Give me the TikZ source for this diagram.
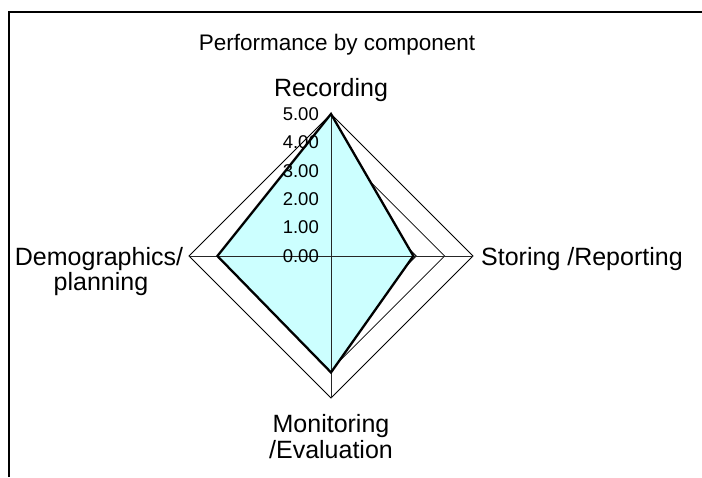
\documentclass[tikz,border=0pt]{standalone}
\usepackage{fontspec}
\setmainfont{Liberation Sans}
\definecolor{areafill}{RGB}{204,255,255}
\begin{document}
\begin{tikzpicture}[x=1pt,y=-1pt,
  gridline/.style={draw=black,line width=0.8pt},
  axisline/.style={draw=black!85,line width=0.8pt},
  dataline/.style={draw=black,line width=2.3pt,line join=miter},
  frameline/.style={draw=black,line width=1.3pt},
  ticklabel/.style={anchor=east,inner sep=0pt,font=\fontsize{18.5}{18.5}\selectfont},
  catlabel/.style={inner sep=0pt,font=\fontsize{25}{25}\selectfont},
  titlelabel/.style={inner sep=0pt,font=\fontsize{22.5}{22.5}\selectfont}]
\useasboundingbox (0,0) rectangle (702,477);
\def\cx{331}
\def\cy{256}
\def\u{28.4}
% frame
\coordinate (f1) at (9,477);
\coordinate (f2) at (9,12);
\coordinate (f3) at (702,12);
\draw[frameline] (f1) -- (f2) -- (f3);
% grid diamonds
\foreach \r in {1,...,5}{
  \draw[gridline] ({\cx},{\cy-\r*\u}) -- ({\cx+\r*\u},{\cy}) -- ({\cx},{\cy+\r*\u}) -- ({\cx-\r*\u},{\cy}) -- cycle;
}
% data
\coordinate (dR) at ({\cx},{\cy-5*\u});
\coordinate (dS) at ({\cx+2.9*\u},{\cy});
\coordinate (dM) at ({\cx},{\cy+4.1*\u});
\coordinate (dD) at ({\cx-4*\u},{\cy});
\fill[areafill] (dR) -- (dS) -- (dM) -- (dD) -- cycle;
% axes
\coordinate (aT) at ({\cx},{\cy-5*\u});
\coordinate (aB) at ({\cx},{\cy+5*\u});
\coordinate (aL) at ({\cx-5*\u},{\cy});
\coordinate (aR) at ({\cx+5*\u},{\cy});
\draw[axisline] (aT) -- (aB);
\draw[axisline] (aL) -- (aR);
\draw[dataline] (dR) -- (dS) -- (dM) -- (dD) -- cycle;
% tick labels
\foreach \v in {0,...,5}{
  \node[ticklabel] (t\v) at (319,{\cy-\v*\u}) {\v.00};
}
% title and categories
\node[titlelabel,anchor=base] (title) at (337,50) {Performance by component};
\node[catlabel,anchor=base] (rec) at (331,96) {Recording};
\node[catlabel,anchor=base west] (sto) at (481,265) {Storing /Reporting};
\node[catlabel,anchor=base] (dem1) at (99,265) {Demographics/};
\node[catlabel,anchor=base] (dem2) at (101,290) {planning};
\node[catlabel,anchor=base] (mon1) at (331,432) {Monitoring};
\node[catlabel,anchor=base] (mon2) at (331,458) {/Evaluation};
\end{tikzpicture}
\end{document}
